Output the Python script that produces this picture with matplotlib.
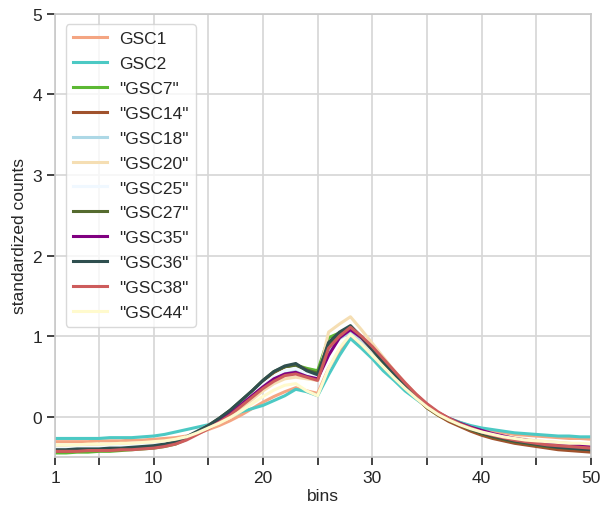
import numpy as np
import matplotlib
matplotlib.use("Agg")
import matplotlib.pyplot as plt

bins = list(range(1, 51))

names = ['GSC1', 'GSC2', '"GSC7"', '"GSC14"', '"GSC18"', '"GSC20"',
         '"GSC25"', '"GSC27"', '"GSC35"', '"GSC36"', '"GSC38"', '"GSC44"']

colors = ['#f4a582', '#4cc9c4', '#5cb833', '#a0522d', '#add8e6', '#f5deb3',
          '#f0f8ff', '#556b2f', '#800080', '#2f4f4f', '#cd5c5c', '#fffacd']

gsc1 = [-0.31, -0.31, -0.31, -0.31, -0.30, -0.30, -0.30, -0.29, -0.29, -0.28,
        -0.27, -0.26, -0.24, -0.21, -0.16, -0.11, -0.05, 0.02, 0.10, 0.18,
        0.25, 0.31, 0.36, 0.32, 0.29, 0.60, 0.82, 0.99, 0.88, 0.75,
        0.61, 0.48, 0.35, 0.24, 0.13, 0.05, -0.02, -0.07, -0.12, -0.15,
        -0.18, -0.20, -0.22, -0.23, -0.24, -0.25, -0.26, -0.27, -0.27, -0.28]
gsc2 = [-0.27, -0.27, -0.27, -0.27, -0.27, -0.26, -0.26, -0.26, -0.25, -0.24,
        -0.22, -0.19, -0.16, -0.13, -0.10, -0.06, 0.00, 0.06, 0.10, 0.14,
        0.20, 0.26, 0.34, 0.31, 0.26, 0.52, 0.76, 0.97, 0.85, 0.72,
        0.57, 0.45, 0.32, 0.22, 0.12, 0.04, -0.02, -0.07, -0.11, -0.14,
        -0.16, -0.18, -0.20, -0.21, -0.22, -0.23, -0.24, -0.24, -0.25, -0.25]
gsc7 = [-0.45, -0.45, -0.44, -0.44, -0.43, -0.43, -0.42, -0.41, -0.40, -0.39,
        -0.37, -0.34, -0.28, -0.20, -0.12, -0.03, 0.07, 0.19, 0.31, 0.44,
        0.55, 0.62, 0.64, 0.60, 0.57, 0.98, 1.04, 1.10, 0.97, 0.82,
        0.66, 0.51, 0.37, 0.24, 0.11, 0.02, -0.05, -0.11, -0.17, -0.22,
        -0.26, -0.29, -0.32, -0.34, -0.36, -0.38, -0.39, -0.40, -0.41, -0.42]
gsc14 = [-0.43, -0.43, -0.42, -0.42, -0.42, -0.41, -0.41, -0.40, -0.39, -0.38,
         -0.36, -0.33, -0.27, -0.20, -0.12, -0.03, 0.07, 0.19, 0.31, 0.44,
         0.55, 0.62, 0.65, 0.58, 0.50, 0.90, 1.03, 1.12, 0.98, 0.83,
         0.67, 0.52, 0.37, 0.24, 0.11, 0.02, -0.06, -0.12, -0.18, -0.23,
         -0.27, -0.30, -0.33, -0.35, -0.37, -0.39, -0.41, -0.42, -0.43, -0.44]
gsc18 = [-0.38, -0.38, -0.38, -0.37, -0.37, -0.37, -0.36, -0.36, -0.35, -0.34,
         -0.33, -0.30, -0.25, -0.19, -0.12, -0.04, 0.05, 0.15, 0.26, 0.37,
         0.47, 0.54, 0.57, 0.52, 0.48, 0.80, 0.97, 1.05, 0.94, 0.80,
         0.65, 0.51, 0.37, 0.25, 0.13, 0.04, -0.03, -0.09, -0.14, -0.18,
         -0.22, -0.25, -0.27, -0.29, -0.31, -0.32, -0.33, -0.34, -0.35, -0.36]
gsc20 = [-0.36, -0.36, -0.36, -0.35, -0.35, -0.35, -0.34, -0.34, -0.33, -0.32,
         -0.31, -0.29, -0.25, -0.19, -0.13, -0.06, 0.02, 0.11, 0.21, 0.32,
         0.41, 0.47, 0.49, 0.47, 0.45, 1.05, 1.15, 1.24, 1.08, 0.91,
         0.74, 0.57, 0.42, 0.28, 0.15, 0.05, -0.03, -0.09, -0.14, -0.18,
         -0.21, -0.24, -0.26, -0.28, -0.30, -0.31, -0.32, -0.33, -0.34, -0.35]
gsc25 = [-0.39, -0.39, -0.38, -0.38, -0.38, -0.37, -0.37, -0.36, -0.35, -0.35,
         -0.33, -0.30, -0.25, -0.18, -0.11, -0.03, 0.06, 0.17, 0.28, 0.40,
         0.50, 0.57, 0.60, 0.54, 0.50, 0.88, 1.02, 1.10, 0.97, 0.82,
         0.67, 0.52, 0.38, 0.25, 0.13, 0.04, -0.03, -0.09, -0.15, -0.19,
         -0.23, -0.26, -0.29, -0.31, -0.33, -0.35, -0.36, -0.37, -0.38, -0.39]
gsc27 = [-0.42, -0.42, -0.41, -0.41, -0.41, -0.40, -0.40, -0.39, -0.38, -0.37,
         -0.35, -0.32, -0.26, -0.19, -0.11, -0.02, 0.08, 0.20, 0.32, 0.45,
         0.56, 0.62, 0.64, 0.58, 0.54, 0.90, 1.03, 1.11, 0.98, 0.83,
         0.67, 0.52, 0.38, 0.25, 0.12, 0.03, -0.04, -0.10, -0.16, -0.21,
         -0.25, -0.28, -0.31, -0.33, -0.35, -0.37, -0.38, -0.39, -0.40, -0.41]
gsc35 = [-0.42, -0.42, -0.41, -0.41, -0.41, -0.40, -0.40, -0.39, -0.38, -0.37,
         -0.35, -0.32, -0.27, -0.20, -0.13, -0.05, 0.04, 0.15, 0.26, 0.37,
         0.47, 0.53, 0.55, 0.50, 0.47, 0.76, 0.98, 1.08, 0.98, 0.84,
         0.69, 0.54, 0.40, 0.27, 0.15, 0.05, -0.02, -0.08, -0.13, -0.17,
         -0.21, -0.24, -0.27, -0.29, -0.31, -0.33, -0.34, -0.35, -0.36, -0.37]
gsc36 = [-0.41, -0.41, -0.40, -0.40, -0.40, -0.39, -0.39, -0.38, -0.37, -0.36,
         -0.34, -0.31, -0.25, -0.18, -0.11, -0.02, 0.08, 0.20, 0.32, 0.45,
         0.56, 0.63, 0.66, 0.57, 0.52, 0.92, 1.05, 1.13, 0.99, 0.84,
         0.68, 0.53, 0.39, 0.26, 0.13, 0.04, -0.03, -0.09, -0.15, -0.20,
         -0.24, -0.27, -0.30, -0.32, -0.34, -0.36, -0.38, -0.39, -0.40, -0.41]
gsc38 = [-0.43, -0.43, -0.43, -0.42, -0.42, -0.42, -0.41, -0.41, -0.40, -0.39,
         -0.37, -0.34, -0.29, -0.22, -0.15, -0.07, 0.02, 0.13, 0.24, 0.35,
         0.44, 0.51, 0.53, 0.49, 0.45, 0.85, 1.00, 1.11, 1.00, 0.87,
         0.72, 0.57, 0.42, 0.28, 0.16, 0.06, -0.02, -0.09, -0.14, -0.19,
         -0.23, -0.26, -0.29, -0.31, -0.33, -0.35, -0.36, -0.37, -0.38, -0.39]
gsc44 = [-0.35, -0.35, -0.35, -0.34, -0.34, -0.34, -0.33, -0.33, -0.32, -0.31,
         -0.30, -0.28, -0.25, -0.20, -0.14, -0.08, -0.01, 0.07, 0.16, 0.25,
         0.33, 0.39, 0.41, 0.32, 0.26, 0.60, 0.85, 1.02, 0.90, 0.76,
         0.62, 0.48, 0.35, 0.23, 0.12, 0.03, -0.04, -0.10, -0.15, -0.19,
         -0.22, -0.25, -0.27, -0.29, -0.30, -0.31, -0.32, -0.33, -0.33, -0.34]

series = [gsc1, gsc2, gsc7, gsc14, gsc18, gsc20, gsc25, gsc27, gsc35, gsc36, gsc38, gsc44]

plt.rcParams['font.family'] = ['Liberation Sans', 'DejaVu Sans']

fig = plt.figure(figsize=(6, 5.1), dpi=100)
ax = fig.add_axes([0.092, 0.102, 0.893, 0.869])

for name, col, vals in zip(names, colors, series):
    ax.plot(bins, vals, color=col, lw=2.2, label=name)

ax.set_xlim(1, 50)
ax.set_ylim(-0.5, 5)
ax.set_xticks([1, 5, 10, 15, 20, 25, 30, 35, 40, 45, 50])
ax.set_xticklabels(['1', '', '10', '', '20', '', '30', '', '40', '', '50'])
ax.set_yticks([0, 1, 2, 3, 4, 5])
ax.grid(True, color='#d6d6d6', lw=1.2)
ax.set_axisbelow(True)
for s in ax.spines.values():
    s.set_color('#c8c8c8')
    s.set_linewidth(1.2)
ax.tick_params(axis='both', length=6, width=1.3, color='#333333',
               labelsize=12.5, labelcolor='#262626')
ax.set_xlabel('bins', fontsize=12.5, color='#262626', labelpad=2)
ax.set_ylabel('standardized counts', fontsize=12.5, color='#262626')

leg = ax.legend(loc='upper left', fontsize=12.5, labelspacing=0.56,
                handlelength=2.0, handletextpad=0.7, frameon=True,
                fancybox=True, borderaxespad=0.6)
leg.get_frame().set_edgecolor('#d0d0d0')
for t in leg.get_texts():
    t.set_color('#262626')

fig.savefig('out.png', dpi=100)
